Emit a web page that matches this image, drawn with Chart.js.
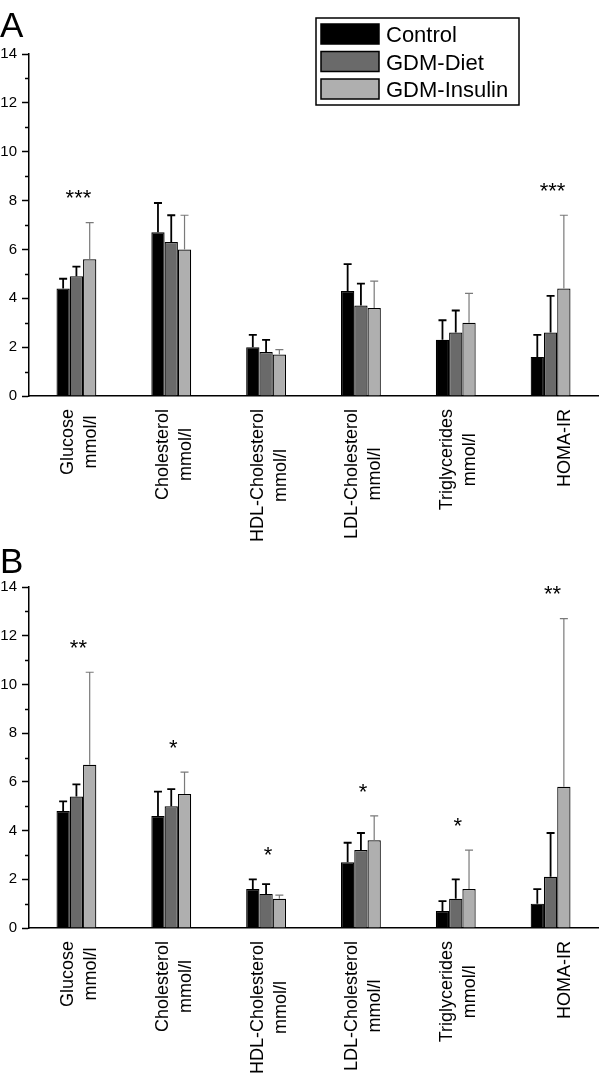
<!DOCTYPE html>
<html>
<head>
<meta charset="utf-8">
<script src="https://cdn.jsdelivr.net/npm/chart.js@4.4.0/dist/chart.umd.min.js"></script>
<style>
    body { margin: 0; background: #fff; }
    canvas { display: block; position: absolute; left: 0; }
    #chartA { top: 0; }
    #chartB { top: 545px; }
</style>
</head>
<body>
<canvas id="chartA" width="600" height="560"></canvas>
<canvas id="chartB" width="600" height="530"></canvas>
<script>
// =====================================================
// DATA
// =====================================================
const categories = [
    ['Glucose', 'mmol/l'],
    ['Cholesterol', 'mmol/l'],
    ['HDL-Cholesterol', 'mmol/l'],
    ['LDL-Cholesterol', 'mmol/l'],
    ['Triglycerides', 'mmol/l'],
    ['', 'HOMA-IR']
];
const groupNames = ['Control', 'GDM-Diet', 'GDM-Insulin'];
const yTicks = [0, 2, 4, 6, 8, 10, 12, 14];

// panel A - means and SD
const controlA = [4.4, 6.7, 2.0, 4.3, 2.3, 1.6];
const dietA    = [4.9, 6.3, 1.8, 3.7, 2.6, 2.6];
const insulinA = [5.6, 6.0, 1.7, 3.6, 3.0, 4.4];
const controlSdA = [0.4, 1.2, 0.5, 1.1, 0.8, 0.9];
const dietSdA    = [0.4, 1.1, 0.5, 0.9, 0.9, 1.5];
const insulinSdA = [1.5, 1.4, 0.2, 1.1, 1.2, 3.0];
const starsA = ['***', '', '', '', '', '***'];

// panel B - means and SD
const controlB = [4.8, 4.6, 1.6, 2.7, 0.7, 1.0];
const dietB    = [5.4, 5.0, 1.4, 3.2, 1.2, 2.1];
const insulinB = [6.7, 5.5, 1.2, 3.6, 1.6, 5.8];
const controlSdB = [0.4, 1.0, 0.4, 0.8, 0.4, 0.6];
const dietSdB    = [0.5, 0.7, 0.4, 0.7, 0.8, 1.8];
const insulinSdB = [3.8, 0.9, 0.15, 1.0, 1.6, 6.9];
const starsB = ['**', '*', '*', '*', '*', '**'];

// =====================================================
// STYLE
// =====================================================
const FONT = '"Liberation Sans", Arial, sans-serif';
const barColors = ['#000000', '#6a6a6a', '#afafaf'];
const errColors = ['#000000', '#000000', '#7a7a7a'];

Chart.defaults.font.family = FONT;
Chart.defaults.color = '#000';

// =====================================================
// PLUGIN: error bars, stars, labels, legend, minor ticks
// =====================================================
function extrasPlugin(panel) {
    return {
        id: 'extras',
        afterDatasetsDraw(chart) {
            const ctx = chart.ctx;
            const x = chart.scales.x;
            const y = chart.scales.y;
            const area = chart.chartArea;
            ctx.save();

            // error bars (upper only)
            chart.data.datasets.forEach((ds, di) => {
                const meta = chart.getDatasetMeta(di);
                ctx.strokeStyle = errColors[di];
                ctx.lineWidth = di === 2 ? 1.2 : 1.8;
                meta.data.forEach((bar, i) => {
                    const top = y.getPixelForValue(ds.data[i] + panel.sd[di][i]);
                    ctx.beginPath();
                    ctx.moveTo(bar.x, bar.y);
                    ctx.lineTo(bar.x, top);
                    ctx.moveTo(bar.x - 4, top);
                    ctx.lineTo(bar.x + 4, top);
                    ctx.stroke();
                });
            });

            // significance stars
            ctx.fillStyle = '#000';
            ctx.font = '22px ' + FONT;
            ctx.textAlign = 'center';
            ctx.textBaseline = 'alphabetic';
            panel.stars.forEach((s, i) => {
                if (!s) return;
                let maxTop = 0;
                chart.data.datasets.forEach((ds, di) => {
                    maxTop = Math.max(maxTop, ds.data[i] + panel.sd[di][i]);
                });
                const cy = y.getPixelForValue(maxTop) - 30;
                ctx.fillText(s, x.getPixelForValue(i) + 2, cy + 12.6);
            });

            // minor ticks on y axis
            ctx.strokeStyle = '#000';
            ctx.lineWidth = 1.5;
            for (let v = 1; v < 14; v += 2) {
                const py = Math.round(y.getPixelForValue(v)) + 0.5;
                ctx.beginPath();
                ctx.moveTo(area.left - 4, py);
                ctx.lineTo(area.left, py);
                ctx.stroke();
            }

            // rotated category labels
            ctx.font = '18px ' + FONT;
            ctx.textBaseline = 'middle';
            categories.forEach((lines, i) => {
                const maxW = Math.max(...lines.map(l => ctx.measureText(l).width));
                const cx = x.getPixelForValue(i) + 3;
                const cy = area.bottom + 13 + maxW / 2;
                ctx.save();
                ctx.translate(cx, cy);
                ctx.rotate(-Math.PI / 2);
                lines.forEach((l, j) => {
                    ctx.fillText(l, 0, (j - (lines.length - 1) / 2) * 23);
                });
                ctx.restore();
            });

            // panel letter
            ctx.font = '35px ' + FONT;
            ctx.textAlign = 'left';
            ctx.textBaseline = 'alphabetic';
            ctx.fillText(panel.letter, 0, panel.letterBase);

            // legend box (panel A only)
            if (panel.legend) {
                ctx.lineWidth = 1.5;
                ctx.strokeStyle = '#000';
                ctx.strokeRect(316, 18, 203, 87);
                ctx.font = '22px ' + FONT;
                chart.data.datasets.forEach((ds, di) => {
                    const top = 24 + di * 27.5;
                    ctx.fillStyle = ds.backgroundColor;
                    ctx.fillRect(321, top, 58, 20);
                    ctx.strokeRect(321, top, 58, 20);
                    ctx.fillStyle = '#000';
                    ctx.fillText(ds.label, 386, top + 18);
                });
            }
            ctx.restore();
        }
    };
}

// =====================================================
// BUILD ONE PANEL
// =====================================================
function makePanel(canvasId, values, panel) {
    const ctx = document.getElementById(canvasId).getContext('2d');
    return new Chart(ctx, {
        type: 'bar',
        data: {
            labels: categories.map(c => c.join(' ')),
            datasets: values.map((v, di) => ({
                label: groupNames[di],
                data: v,
                backgroundColor: barColors[di],
                borderColor: '#000',
                borderWidth: 1.2,
                categoryPercentage: 0.42,
                barPercentage: 1.0
            }))
        },
        options: {
            responsive: false,
            animation: false,
            devicePixelRatio: 1,
            layout: { padding: { top: panel.top, right: 2, left: 0, bottom: 0 } },
            plugins: {
                legend: { display: false },
                tooltip: { enabled: false }
            },
            scales: {
                x: {
                    grid: { display: false },
                    ticks: { display: false },
                    border: { display: true, color: '#000', width: 1.5 },
                    afterFit: s => { s.height = panel.xHeight; }
                },
                y: {
                    min: 0,
                    max: 14,
                    afterBuildTicks: s => { s.ticks = yTicks.map(v => ({ value: v })); },
                    ticks: {
                        autoSkip: false,
                        padding: 5,
                        color: '#000',
                        font: { size: 15 }
                    },
                    grid: {
                        drawOnChartArea: false,
                        drawTicks: true,
                        tickLength: 7,
                        tickWidth: 1.5,
                        tickColor: '#000'
                    },
                    border: { color: '#000', width: 1.5 },
                    afterFit: s => { s.width = 29; }
                }
            }
        },
        plugins: [extrasPlugin(panel)]
    });
}

makePanel('chartA', [controlA, dietA, insulinA], {
    sd: [controlSdA, dietSdA, insulinSdA],
    stars: starsA,
    letter: 'A',
    letterBase: 37,
    legend: true,
    top: 54,
    xHeight: 164
});

makePanel('chartB', [controlB, dietB, insulinB], {
    sd: [controlSdB, dietSdB, insulinSdB],
    stars: starsB,
    letter: 'B',
    letterBase: 28,
    legend: false,
    top: 42,
    xHeight: 147
});
</script>
</body>
</html>
